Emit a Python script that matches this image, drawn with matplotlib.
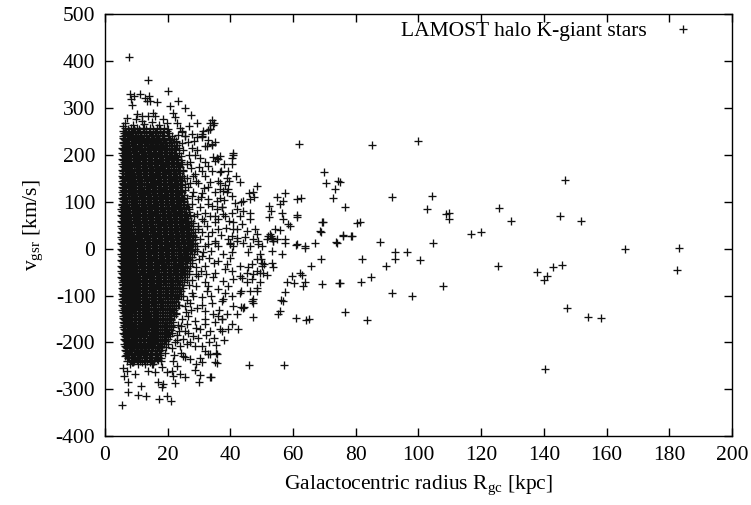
import matplotlib
matplotlib.use("Agg")
import matplotlib.pyplot as plt

plt.rcParams['font.family'] = ['Liberation Serif', 'DejaVu Serif']
plt.rcParams['mathtext.fontset'] = 'custom'
plt.rcParams['mathtext.rm'] = 'Liberation Serif'
plt.rcParams['mathtext.it'] = 'Liberation Serif:italic'
plt.rcParams['axes.unicode_minus'] = False

# ---------------- data (R_gc [kpc], v_gsr [km/s]) ----------------
far_pts = [(85.2, 221), (99.7, 230), (146.6, 147), (75.0, 143), (91.5, 110), (104.2, 113),
           (76.7, 88), (102.6, 85), (108.8, 73), (109.8, 77), (109.7, 64), (125.7, 86),
           (129.4, 59), (145.2, 69), (151.8, 60), (80.3, 55), (81.3, 57), (75.8, 29),
           (78.7, 27), (116.6, 32), (119.8, 36), (87.8, 14), (104.5, 12), (92.5, -8),
           (96.2, -8), (92.5, -21), (82.0, -22), (100.6, -24), (89.7, -37), (165.9, 0),
           (183.2, 2), (182.6, -45), (125.5, -37), (137.9, -50), (140.0, -67), (141.0, -58),
           (143.0, -40), (145.9, -35), (84.7, -61), (81.7, -72), (75.0, -74), (91.6, -94),
           (97.8, -101), (107.7, -79), (147.5, -127), (154.0, -145), (158.2, -148),
           (76.5, -136), (83.7, -153), (140.4, -257), (74.7, -74)]

mid_pts = [(61.9, 224), (70.0, 164), (70.5, 141), (73.4, 127), (74.4, 145), (72.8, 109),
           (69.4, 57), (68.8, 36), (73.7, 14), (61.1, 105), (62.5, 109), (57.4, 118),
           (56.7, 102), (55.0, 110), (55.8, 95), (52.4, 91), (52.9, 81), (52.3, 68),
           (56.4, 76), (56.9, 63), (58.5, 52), (59.0, 49), (61.1, 71), (61.4, 68),
           (54.2, 41), (55.8, 39), (52.1, 27), (53.2, 22), (48.6, 134), (47.1, 121),
           (46.0, 118), (47.6, 110), (46.2, 105), (43.9, 102), (43.3, 100), (41.8, 155),
           (43.1, 143), (40.9, 205), (40.4, 194), (38.8, 150), (39.7, 145), (36.1, 145),
           (36.7, 141), (36.9, 166), (34.6, 196), (36.1, 192), (35.1, 187), (32.4, 219),
           (34.0, 223), (33.5, 269), (34.5, 265), (33.0, 253), (30.8, 241), (41.5, 98),
           (42.0, 84), (44.1, 80), (46.2, 77), (46.2, 63), (43.1, 70), (43.6, 52),
           (40.9, 56), (42.0, 41), (45.2, 38), (47.8, 41), (48.4, 31), (52.6, 31),
           (52.9, 26), (44.7, 24), (47.3, 20), (48.9, 17), (50.0, 6), (53.7, 17),
           (54.8, 20), (57.4, 13), (61.1, 10), (63.8, 6), (67.0, 13), (40.4, 27),
           (42.0, 22), (39.9, 9), (40.9, 6), (35.6, 84), (37.2, 88), (37.7, 73),
           (35.1, 70), (36.1, 63), (37.7, 123), (38.8, 120), (40.4, 113), (36.7, 109),
           (35.6, 102), (40.4, 180), (69.3, 57), (68.6, 37), (75.8, 27), (78.4, 26),
           (60.9, 7), (63.8, 2), (73.9, 13), (68.8, -22), (65.6, -37), (69.1, -76),
           (62.2, -51), (62.7, -57), (59.5, -58), (63.8, -72), (63.3, -79), (60.4, -74),
           (58.0, -72), (57.4, -92), (56.1, -109), (56.9, -111), (55.8, -133), (55.3, -140),
           (60.8, -147), (64.1, -152), (65.2, -150), (53.7, -40), (53.2, -30), (50.0, -30),
           (50.0, -37), (50.5, -51), (51.6, -57), (48.6, -47), (45.7, -40), (45.2, -51),
           (46.8, -65), (49.4, -12), (53.2, -5), (56.4, -12), (45.7, -8), (46.8, -33),
           (47.3, -54), (43.6, -62), (48.4, -90), (43.1, -94), (46.8, -111), (47.3, -115),
           (47.3, -145), (42.2, -140), (44.1, -126), (40.9, -122), (39.3, -172), (42.5, -172),
           (37.2, -175), (37.7, -108), (37.2, -150), (36.1, -143), (35.6, -225), (35.1, -243),
           (33.5, -225), (46.0, -248), (57.2, -248), (39.9, 13), (42.0, 17), (44.1, 13),
           (46.2, 6), (48.9, 10), (51.6, 20), (40.4, -47), (38.8, -33), (39.9, -19),
           (40.9, -65), (43.1, -58), (43.1, -37), (48.4, -83), (47.3, -108), (43.3, -124),
           (44.3, -125), (46.2, -90), (45.2, -72), (43.4, -90), (49.5, -72), (49.3, -51),
           (50.6, -33), (49.9, -22), (48.4, -22), (57.4, 20), (53.7, 17)]

top_pts = [(7.7, 409), (13.6, 361), (20.2, 337), (8.0, 331), (9.4, 327), (11.2, 331),
           (12.8, 322), (14.1, 327), (13.3, 315), (14.4, 315), (8.3, 319), (8.5, 306),
           (23.4, 316), (16.5, 313), (25.5, 301), (27.4, 285), (29.2, 269), (34.0, 274),
           (34.9, 268), (33.5, 255), (21.8, 290), (22.3, 282), (20.7, 304), (18.6, 276),
           (19.7, 268), (15.4, 290), (15.9, 283), (13.8, 283), (11.7, 283), (10.1, 287),
           (9.8, 276), (11.9, 272), (6.9, 280), (6.4, 269), (5.8, 262), (30.8, 244),
           (29.2, 239), (23.9, 258), (24.5, 251), (25.5, 241), (20.2, 255), (17.2, 264),
           (12.6, 266), (8.9, 263), (15.1, 270), (22.9, 268), (26.8, 262)]

bottom_pts = [(5.3, -333), (7.4, -307), (10.6, -313), (13.0, -315), (17.3, -321),
              (19.7, -315), (20.9, -325), (18.1, -296), (7.4, -285), (11.5, -293),
              (6.2, -271), (6.9, -261), (5.8, -254), (17.0, -284), (18.6, -289),
              (22.3, -286), (25.5, -273), (28.7, -259), (30.0, -284), (33.8, -275),
              (35.6, -244), (35.4, -223), (33.0, -225), (30.8, -243), (28.9, -246),
              (30.3, -234), (27.1, -236), (25.5, -232), (31.9, -218), (28.7, -207),
              (26.0, -204), (23.9, -268), (21.8, -271), (8.5, -243), (10.1, -236),
              (12.8, -239), (14.9, -246), (9.6, -268), (13.8, -261), (15.9, -264),
              (19.7, -264), (21.3, -261), (6.4, -229), (30.3, -270), (33.5, -273),
              (24.3, -222), (21.6, -240), (18.3, -252), (16.6, -236), (23.0, -250)]

halo_pts = [(25.5, 240), (28.5, 230), (30.8, 239), (33.5, 255), (23.2, 242), (24.7, 226),
            (27.6, 216), (31.9, 219), (34.0, 221), (28.7, 201), (30.3, 194), (35.6, 194),
            (36.7, 198), (40.9, 201), (31.9, 184), (33.0, 176), (30.8, 166), (34.0, 166),
            (36.7, 164), (28.2, 155), (31.9, 155), (38.3, 137), (39.3, 127), (35.1, 120),
            (36.7, 127), (27.6, 113), (29.8, 105), (33.0, 105), (34.0, 91), (37.2, 88),
            (38.3, 70), (40.4, 77), (31.9, 77), (30.8, 63), (35.1, 56), (36.2, 41),
            (39.3, 20), (40.9, 41), (33.0, 27), (35.1, 13), (29.8, 41), (28.2, 27),
            (31.9, 6), (35.1, 17), (37.7, -12), (36.2, -26), (40.4, -8), (31.9, -37),
            (35.1, -51), (38.3, -44), (29.8, -58), (31.9, -72), (36.2, -86), (38.3, -94),
            (40.4, -101), (27.6, -94), (30.8, -104), (34.0, -115), (37.2, -111), (29.2, -126),
            (31.9, -133), (37.2, -150), (36.7, -172), (35.1, -157), (26.6, -143), (28.7, -154),
            (31.9, -161), (30.3, -172), (25.5, -175), (28.2, -186), (27.1, -200), (30.8, -207),
            (25.0, -193), (23.9, -207), (26.1, 180), (27.3, 172), (29.1, 145), (26.4, 132),
            (28.0, 122), (30.4, 88), (27.9, 96), (29.5, 74), (32.6, 48), (30.2, 20),
            (31.4, -8), (33.2, -20), (29.9, -22), (28.9, -40), (30.6, -48), (27.7, -66),
            (29.1, -80), (26.2, -110), (25.4, -122), (27.4, -130), (24.6, -150), (23.2, -162),
            (26.0, -160), (23.0, -185), (22.4, -200), (21.5, -212), (32.7, 132), (33.6, 142),
            (31.1, 118), (26.7, 200), (25.0, 210), (24.2, 190), (32.4, -90), (33.8, -100),
            (34.3, -140), (32.3, -184), (24.8, -230), (22.1, -226),
            (24.9, 165), (26.0, 150), (27.1, 140), (25.3, 100), (26.8, 85), (28.3, 70),
            (27.5, 55), (29.6, 48), (30.9, 35), (28.0, 10), (29.5, -5), (30.8, -15),
            (27.9, -25), (29.0, -55), (26.9, -78), (28.2, -100), (25.7, -135), (27.0, -115),
            (24.3, -165), (26.5, -180), (23.6, -175), (22.9, -195), (28.9, -170), (29.7, -190),
            (33.1, -200), (32.0, -150), (33.4, -175), (34.8, -190), (31.0, -120), (33.0, -80),
            (34.4, -60), (32.2, -55), (34.7, -30), (33.9, -5), (36.0, 5), (32.8, 10),
            (37.0, 30), (34.2, 35), (31.5, 60), (33.6, 70), (32.7, 95), (30.5, 110),
            (31.6, 130), (29.6, 140), (28.7, 160), (30.0, 175), (27.2, 185), (29.2, 210),
            (26.5, 228), (24.6, 250), (22.8, 229), (27.8, 245), (31.3, 252), (32.9, 232),
            (35.2, 228), (37.9, 180), (39.1, 165), (38.0, 104), (39.5, 60), (38.6, 45),
            (37.6, -70), (39.2, -80), (36.5, -130), (38.8, -140), (40.5, -160), (35.5, -205),
            (38.1, -195), (24.4, 120), (25.6, 60), (26.4, 30), (27.2, 5), (26.0, -20),
            (25.2, -45), (26.7, -55), (24.0, -90), (25.0, -100), (23.7, -120), (22.8, -140)]

# dense core (too crowded to separate single stars): rows of estimated positions
core_v = [258, 252, 246, 240, 234, 228, 222, 216, 210, 204, 198, 192, 186, 180, 174, 168,
          162, 156, 150, 144, 138, 132, 126, 120, 114, 108, 102, 96, 90, 84, 78, 72, 66,
          60, 54, 48, 42, 36, 30, 24, 18, 12, 6, 0, -6, -12, -18, -24, -30, -36, -42, -48,
          -54, -60, -66, -72, -78, -84, -90, -96, -102, -108, -114, -120, -126, -132, -138,
          -144, -150, -156, -162, -168, -174, -180, -186, -192, -198, -204, -210, -216,
          -222, -228, -234, -240, -246]
core_x = [
    [6.5, 8.4, 10.3, 12.2, 14.4, 16.6, 18.9],
    [5.9, 7.6, 9.5, 11.3, 13.2, 15.3, 17.4, 19.8],
    [6.2, 7.4, 8.9, 10.6, 12.3, 14.0, 15.8, 17.7, 20.5],
    [5.7, 6.9, 8.3, 9.8, 11.4, 13.0, 14.6, 16.3, 18.1, 20.0, 21.4],
    [6.0, 7.5, 8.9, 10.4, 12.0, 13.6, 15.2, 16.8, 18.6, 20.4, 22.1],
    [5.6, 6.8, 8.2, 9.7, 11.2, 12.7, 14.3, 15.9, 17.5, 19.1, 20.9, 22.6],
    [6.1, 7.4, 8.9, 10.4, 11.9, 13.4, 14.9, 16.6, 18.2, 19.8, 21.5, 23.0],
    [5.5, 6.7, 8.1, 9.6, 11.1, 12.6, 14.1, 15.6, 17.2, 18.8, 20.4, 22.1, 23.5],
    [6.0, 7.4, 8.8, 10.3, 11.8, 13.3, 14.8, 16.4, 17.9, 19.5, 21.2, 22.8],
    [5.5, 6.7, 8.1, 9.6, 11.0, 12.6, 14.0, 15.6, 17.1, 18.7, 20.3, 21.9, 23.7],
    [6.1, 7.4, 8.8, 10.2, 11.7, 13.2, 14.8, 16.3, 17.9, 19.4, 21.0, 22.6, 24.1],
    [5.4, 6.7, 8.1, 9.5, 11.0, 12.5, 14.0, 15.5, 17.1, 18.6, 20.2, 21.8, 23.4],
    [6.0, 7.3, 8.8, 10.3, 11.7, 13.2, 14.7, 16.3, 17.8, 19.4, 21.0, 22.6, 24.3],
    [5.4, 6.6, 8.0, 9.5, 10.9, 12.4, 14.0, 15.5, 17.0, 18.6, 20.1, 21.7, 23.3, 24.6],
    [6.0, 7.3, 8.7, 10.2, 11.7, 13.2, 14.7, 16.2, 17.8, 19.3, 20.9, 22.5, 24.0],
    [5.4, 6.6, 8.0, 9.4, 10.9, 12.4, 13.9, 15.4, 17.0, 18.5, 20.1, 21.6, 23.2, 24.8],
    [5.9, 7.3, 8.7, 10.1, 11.6, 13.1, 14.6, 16.2, 17.7, 19.3, 20.8, 22.4, 24.0],
    [5.3, 6.6, 8.0, 9.4, 10.8, 12.3, 13.9, 15.4, 16.9, 18.5, 20.0, 21.6, 23.1, 24.7],
    [5.9, 7.2, 8.6, 10.1, 11.6, 13.1, 14.6, 16.1, 17.7, 19.2, 20.8, 22.3, 23.9, 25.3],
    [5.3, 6.5, 7.9, 9.3, 10.8, 12.3, 13.8, 15.3, 16.9, 18.4, 20.0, 21.5, 23.1, 24.6],
    [5.9, 7.2, 8.6, 10.0, 11.5, 13.0, 14.6, 16.1, 17.6, 19.2, 20.7, 22.3, 23.8, 25.4],
    [5.3, 6.5, 7.9, 9.3, 10.8, 12.3, 13.8, 15.3, 16.8, 18.4, 19.9, 21.5, 23.0, 24.6],
    [5.9, 7.2, 8.6, 10.0, 11.5, 13.0, 14.5, 16.0, 17.6, 19.1, 20.7, 22.2, 23.8, 25.5],
    [5.3, 6.5, 7.9, 9.3, 10.7, 12.2, 13.7, 15.3, 16.8, 18.3, 19.9, 21.4, 23.0, 24.6],
    [5.9, 7.2, 8.5, 10.0, 11.5, 12.9, 14.5, 16.0, 17.5, 19.1, 20.6, 22.2, 23.7, 25.3],
    [5.3, 6.5, 7.8, 9.2, 10.7, 12.2, 13.7, 15.2, 16.7, 18.3, 19.8, 21.4, 22.9, 24.5, 26.0],
    [5.8, 7.1, 8.5, 9.9, 11.4, 12.9, 14.4, 15.9, 17.5, 19.0, 20.6, 22.1, 23.7, 25.2],
    [5.3, 6.5, 7.8, 9.2, 10.7, 12.2, 13.6, 15.2, 16.7, 18.2, 19.8, 21.3, 22.9, 24.4, 26.0],
    [5.8, 7.1, 8.5, 9.9, 11.4, 12.9, 14.4, 15.9, 17.4, 19.0, 20.5, 22.1, 23.6, 25.2, 26.5],
    [5.2, 6.4, 7.8, 9.2, 10.6, 12.1, 13.6, 15.1, 16.7, 18.2, 19.7, 21.3, 22.8, 24.4, 25.9],
    [5.8, 7.1, 8.5, 9.9, 11.3, 12.8, 14.3, 15.9, 17.4, 18.9, 20.5, 22.0, 23.6, 25.1, 26.7],
    [5.2, 6.4, 7.8, 9.1, 10.6, 12.1, 13.6, 15.1, 16.6, 18.1, 19.7, 21.2, 22.8, 24.3, 25.9, 27.2],
    [5.8, 7.1, 8.4, 9.9, 11.3, 12.8, 14.3, 15.8, 17.3, 18.9, 20.4, 22.0, 23.5, 25.1, 26.6],
    [5.2, 6.4, 7.7, 9.1, 10.6, 12.0, 13.5, 15.0, 16.6, 18.1, 19.6, 21.2, 22.7, 24.3, 25.8, 27.4],
    [5.8, 7.0, 8.4, 9.8, 11.3, 12.8, 14.3, 15.8, 17.3, 18.8, 20.4, 21.9, 23.5, 25.0, 26.6, 28.0],
    [5.2, 6.4, 7.7, 9.1, 10.5, 12.0, 13.5, 15.0, 16.5, 18.0, 19.6, 21.1, 22.7, 24.2, 25.8, 27.3],
    [5.8, 7.0, 8.4, 9.8, 11.2, 12.7, 14.2, 15.7, 17.3, 18.8, 20.3, 21.9, 23.4, 25.0, 26.5, 28.1],
    [5.2, 6.4, 7.7, 9.1, 10.5, 12.0, 13.5, 15.0, 16.5, 18.0, 19.5, 21.1, 22.6, 24.2, 25.7, 27.3, 28.6],
    [5.8, 7.0, 8.4, 9.8, 11.2, 12.7, 14.2, 15.7, 17.2, 18.7, 20.3, 21.8, 23.4, 24.9, 26.5, 28.0],
    [5.2, 6.4, 7.7, 9.0, 10.5, 11.9, 13.4, 14.9, 16.4, 18.0, 19.5, 21.0, 22.6, 24.1, 25.7, 27.2, 28.8],
    [5.8, 7.0, 8.3, 9.7, 11.2, 12.6, 14.1, 15.6, 17.2, 18.7, 20.2, 21.8, 23.3, 24.9, 26.4, 28.0],
    [5.2, 6.4, 7.7, 9.0, 10.4, 11.9, 13.4, 14.9, 16.4, 17.9, 19.5, 21.0, 22.5, 24.1, 25.6, 27.2, 28.7],
    [5.8, 7.0, 8.3, 9.7, 11.1, 12.6, 14.1, 15.6, 17.1, 18.7, 20.2, 21.7, 23.3, 24.8, 26.4, 27.9, 29.3],
    [5.2, 6.4, 7.6, 9.0, 10.4, 11.9, 13.4, 14.9, 16.4, 17.9, 19.4, 21.0, 22.5, 24.0, 25.6, 27.1, 28.7],
    [5.8, 7.0, 8.3, 9.7, 11.1, 12.6, 14.1, 15.6, 17.1, 18.6, 20.2, 21.7, 23.2, 24.8, 26.3, 27.9],
    [5.2, 6.4, 7.6, 9.0, 10.4, 11.9, 13.3, 14.8, 16.3, 17.9, 19.4, 20.9, 22.5, 24.0, 25.6, 27.1, 28.5],
    [5.8, 7.0, 8.3, 9.7, 11.1, 12.5, 14.0, 15.5, 17.1, 18.6, 20.1, 21.7, 23.2, 24.7, 26.3, 27.8],
    [5.2, 6.4, 7.6, 9.0, 10.4, 11.8, 13.3, 14.8, 16.3, 17.8, 19.4, 20.9, 22.4, 24.0, 25.5, 27.1],
    [5.8, 7.0, 8.3, 9.7, 11.1, 12.5, 14.0, 15.5, 17.0, 18.6, 20.1, 21.6, 23.2, 24.7, 26.3, 27.7],
    [5.2, 6.4, 7.6, 8.9, 10.3, 11.8, 13.3, 14.8, 16.3, 17.8, 19.3, 20.9, 22.4, 23.9, 25.5, 27.0],
    [5.8, 7.0, 8.3, 9.6, 11.0, 12.5, 14.0, 15.5, 17.0, 18.5, 20.1, 21.6, 23.1, 24.7, 26.2],
    [5.2, 6.4, 7.6, 8.9, 10.3, 11.8, 13.3, 14.7, 16.2, 17.8, 19.3, 20.8, 22.4, 23.9, 25.4, 26.9],
    [5.8, 7.0, 8.2, 9.6, 11.0, 12.5, 14.0, 15.4, 17.0, 18.5, 20.0, 21.6, 23.1, 24.6, 26.1],
    [5.2, 6.4, 7.6, 8.9, 10.3, 11.8, 13.2, 14.7, 16.2, 17.7, 19.3, 20.8, 22.3, 23.8, 25.4],
    [5.8, 7.0, 8.2, 9.6, 11.0, 12.5, 13.9, 15.4, 16.9, 18.5, 20.0, 21.5, 23.0, 24.6, 26.0],
    [5.3, 6.4, 7.6, 8.9, 10.3, 11.7, 13.2, 14.7, 16.2, 17.7, 19.2, 20.7, 22.3, 23.8, 25.2],
    [5.8, 7.0, 8.2, 9.6, 11.0, 12.4, 13.9, 15.4, 16.9, 18.4, 20.0, 21.5, 23.0, 24.5],
    [5.3, 6.5, 7.6, 8.9, 10.3, 11.7, 13.2, 14.7, 16.1, 17.7, 19.2, 20.7, 22.2, 23.7, 25.0],
    [5.9, 7.0, 8.3, 9.6, 11.0, 12.4, 13.9, 15.4, 16.9, 18.4, 19.9, 21.4, 23.0, 24.4],
    [5.3, 6.5, 7.7, 8.9, 10.3, 11.7, 13.2, 14.6, 16.1, 17.6, 19.1, 20.7, 22.2, 23.7],
    [5.9, 7.1, 8.3, 9.6, 11.0, 12.4, 13.9, 15.3, 16.8, 18.4, 19.9, 21.4, 22.9, 24.2],
    [5.4, 6.5, 7.7, 9.0, 10.3, 11.7, 13.1, 14.6, 16.1, 17.6, 19.1, 20.6, 22.1, 23.4],
    [5.9, 7.1, 8.3, 9.6, 11.0, 12.4, 13.8, 15.3, 16.8, 18.3, 19.8, 21.3, 22.8],
    [5.4, 6.6, 7.7, 9.0, 10.3, 11.7, 13.1, 14.6, 16.1, 17.6, 19.1, 20.6, 22.1, 23.3],
    [6.0, 7.1, 8.3, 9.6, 11.0, 12.4, 13.8, 15.3, 16.8, 18.3, 19.8, 21.3, 22.6],
    [5.5, 6.6, 7.8, 9.0, 10.4, 11.7, 13.1, 14.6, 16.0, 17.5, 19.0, 20.5, 22.0],
    [6.0, 7.2, 8.4, 9.7, 11.0, 12.4, 13.8, 15.3, 16.7, 18.2, 19.7, 21.2, 22.5],
    [5.6, 6.7, 7.8, 9.1, 10.4, 11.7, 13.1, 14.5, 16.0, 17.5, 19.0, 20.5, 21.9],
    [6.1, 7.2, 8.4, 9.7, 11.0, 12.4, 13.8, 15.2, 16.7, 18.2, 19.7, 21.2],
    [5.7, 6.8, 7.9, 9.1, 10.4, 11.8, 13.1, 14.5, 16.0, 17.5, 19.0, 20.4, 21.8],
    [6.2, 7.3, 8.5, 9.7, 11.1, 12.4, 13.8, 15.2, 16.7, 18.2, 19.6, 21.1],
    [5.8, 6.9, 8.0, 9.2, 10.5, 11.8, 13.2, 14.6, 16.0, 17.4, 18.9, 20.4, 21.6],
    [6.3, 7.4, 8.6, 9.8, 11.1, 12.5, 13.9, 15.3, 16.7, 18.1, 19.6, 21.0],
    [5.9, 7.0, 8.1, 9.3, 10.6, 11.9, 13.2, 14.6, 16.0, 17.4, 18.9, 20.3, 21.4],
    [6.4, 7.5, 8.7, 9.9, 11.2, 12.5, 13.9, 15.3, 16.7, 18.1, 19.5, 20.8],
    [6.0, 7.1, 8.2, 9.4, 10.7, 12.0, 13.3, 14.6, 16.0, 17.4, 18.8, 20.2],
    [6.6, 7.7, 8.8, 10.0, 11.3, 12.6, 13.9, 15.3, 16.7, 18.1, 19.5],
    [6.2, 7.3, 8.4, 9.6, 10.8, 12.1, 13.4, 14.7, 16.1, 17.5, 18.9, 20.1],
    [6.8, 7.9, 9.0, 10.2, 11.4, 12.7, 14.0, 15.4, 16.8, 18.2, 19.4],
    [6.4, 7.6, 8.7, 9.9, 11.1, 12.4, 13.7, 15.1, 16.5, 17.9],
    [7.0, 8.3, 9.5, 10.8, 12.1, 13.5, 14.9, 16.3, 17.7, 19.0],
    [6.8, 8.2, 9.6, 11.2, 12.7, 14.3, 15.8, 17.4],
    [7.3, 9.0, 10.6, 12.4, 14.1, 15.9, 17.8],
    [7.0, 9.2, 11.3, 13.4, 15.6, 18.0],
    [8.1, 10.5, 12.9, 15.3],
]

core2_v = [255, 249, 243, 237, 231, 225, 219, 213, 207, 201, 195, 189, 183, 177, 171, 165,
           159, 153, 147, 141, 135, 129, 123, 117, 111, 105, 99, 93, 87, 81, 75, 69, 63,
           57, 51, 45, 39, 33, 27, 21, 15, 9, 3, -3, -9, -15, -21, -27, -33, -39, -45, -51,
           -57, -63, -69, -75, -81, -87, -93, -99, -105, -111, -117, -123, -129, -135, -141,
           -147, -153, -159, -165, -171, -177, -183, -189, -195, -201, -207, -213, -219,
           -225, -231, -237, -243]
core2_x = [
    [7.2, 9.1, 11.0, 13.1, 15.3, 17.6],
    [6.7, 8.5, 10.4, 12.3, 14.3, 16.4, 18.6],
    [6.3, 7.9, 9.6, 11.3, 13.1, 14.9, 16.8, 18.9],
    [5.9, 7.2, 8.7, 10.2, 11.8, 13.4, 15.0, 16.7, 18.5, 20.3],
    [6.3, 7.7, 9.2, 10.7, 12.3, 13.9, 15.5, 17.2, 18.9, 20.8],
    [5.8, 7.1, 8.5, 10.0, 11.5, 13.0, 14.6, 16.2, 17.8, 19.5, 21.2],
    [6.4, 7.8, 9.3, 10.8, 12.3, 13.8, 15.4, 17.0, 18.6, 20.3, 21.9],
    [5.8, 7.0, 8.5, 10.0, 11.4, 12.9, 14.5, 16.0, 17.6, 19.2, 20.9, 22.4],
    [6.4, 7.8, 9.2, 10.7, 12.2, 13.7, 15.2, 16.8, 18.3, 19.9, 21.5],
    [5.8, 7.0, 8.4, 9.9, 11.4, 12.9, 14.4, 15.9, 17.5, 19.0, 20.6, 22.3],
    [6.4, 7.7, 9.2, 10.6, 12.1, 13.6, 15.1, 16.7, 18.2, 19.8, 21.4, 22.9],
    [5.7, 7.0, 8.4, 9.9, 11.3, 12.8, 14.3, 15.9, 17.4, 19.0, 20.5, 22.1],
    [6.3, 7.7, 9.1, 10.6, 12.0, 13.6, 15.1, 16.6, 18.2, 19.7, 21.3, 22.9],
    [5.7, 7.0, 8.4, 9.8, 11.3, 12.8, 14.3, 15.8, 17.4, 18.9, 20.5, 22.1, 23.5],
    [6.3, 7.6, 9.1, 10.5, 12.0, 13.5, 15.0, 16.6, 18.1, 19.7, 21.2, 22.8],
    [5.7, 6.9, 8.3, 9.8, 11.2, 12.7, 14.2, 15.8, 17.3, 18.9, 20.4, 22.0, 23.6],
    [6.3, 7.6, 9.0, 10.5, 12.0, 13.5, 15.0, 16.5, 18.1, 19.6, 21.2, 22.7],
    [5.6, 6.9, 8.3, 9.7, 11.2, 12.7, 14.2, 15.7, 17.3, 18.8, 20.4, 21.9, 23.5],
    [6.2, 7.6, 9.0, 10.5, 11.9, 13.4, 15.0, 16.5, 18.0, 19.6, 21.1, 22.7, 24.1],
    [5.6, 6.9, 8.3, 9.7, 11.1, 12.6, 14.2, 15.7, 17.2, 18.8, 20.3, 21.9, 23.4],
    [6.2, 7.5, 8.9, 10.4, 11.9, 13.4, 14.9, 16.4, 18.0, 19.5, 21.1, 22.6, 24.2],
    [5.6, 6.8, 8.2, 9.6, 11.1, 12.6, 14.1, 15.6, 17.2, 18.7, 20.3, 21.8, 23.4],
    [6.2, 7.5, 8.9, 10.4, 11.8, 13.3, 14.9, 16.4, 17.9, 19.5, 21.0, 22.6, 24.2],
    [5.6, 6.8, 8.2, 9.6, 11.1, 12.6, 14.1, 15.6, 17.1, 18.7, 20.2, 21.8, 23.3],
    [6.2, 7.5, 8.9, 10.3, 11.8, 13.3, 14.8, 16.4, 17.9, 19.4, 21.0, 22.5, 24.1],
    [5.6, 6.8, 8.2, 9.6, 11.0, 12.5, 14.0, 15.6, 17.1, 18.6, 20.2, 21.7, 23.3, 24.8],
    [6.1, 7.5, 8.9, 10.3, 11.8, 13.3, 14.8, 16.3, 17.8, 19.4, 20.9, 22.5, 24.0],
    [5.5, 6.8, 8.2, 9.6, 11.0, 12.5, 14.0, 15.5, 17.0, 18.6, 20.1, 21.7, 23.2, 24.8],
    [6.1, 7.4, 8.8, 10.3, 11.7, 13.2, 14.7, 16.3, 17.8, 19.3, 20.9, 22.4, 24.0, 25.3],
    [5.5, 6.8, 8.1, 9.5, 11.0, 12.5, 14.0, 15.5, 17.0, 18.5, 20.1, 21.6, 23.2, 24.7],
    [6.1, 7.4, 8.8, 10.2, 11.7, 13.2, 14.7, 16.2, 17.7, 19.3, 20.8, 22.4, 23.9, 25.5],
    [5.5, 6.7, 8.1, 9.5, 10.9, 12.4, 13.9, 15.4, 17.0, 18.5, 20.0, 21.6, 23.1, 24.7, 26.0],
    [6.1, 7.4, 8.8, 10.2, 11.7, 13.1, 14.6, 16.2, 17.7, 19.2, 20.8, 22.3, 23.9, 25.4],
    [5.5, 6.7, 8.1, 9.5, 10.9, 12.4, 13.9, 15.4, 16.9, 18.4, 20.0, 21.5, 23.1, 24.6, 26.2],
    [6.1, 7.4, 8.7, 10.2, 11.6, 13.1, 14.6, 16.1, 17.6, 19.2, 20.7, 22.3, 23.8, 25.4, 26.7],
    [5.5, 6.7, 8.1, 9.4, 10.9, 12.4, 13.8, 15.3, 16.9, 18.4, 19.9, 21.5, 23.0, 24.6, 26.1],
    [6.1, 7.3, 8.7, 10.1, 11.6, 13.1, 14.6, 16.1, 17.6, 19.1, 20.7, 22.2, 23.8, 25.3, 26.9],
    [5.5, 6.7, 8.0, 9.4, 10.8, 12.3, 13.8, 15.3, 16.8, 18.4, 19.9, 21.4, 23.0, 24.5, 26.1, 27.4],
    [6.1, 7.3, 8.7, 10.1, 11.6, 13.0, 14.5, 16.0, 17.6, 19.1, 20.6, 22.2, 23.7, 25.3, 26.8],
    [5.5, 6.7, 8.0, 9.4, 10.8, 12.3, 13.8, 15.3, 16.8, 18.3, 19.8, 21.4, 22.9, 24.5, 26.0, 27.6],
    [6.1, 7.3, 8.7, 10.1, 11.5, 13.0, 14.5, 16.0, 17.5, 19.0, 20.6, 22.1, 23.7, 25.2, 26.8],
    [5.5, 6.7, 8.0, 9.4, 10.8, 12.2, 13.7, 15.2, 16.7, 18.3, 19.8, 21.3, 22.9, 24.4, 26.0, 27.5],
    [6.1, 7.3, 8.6, 10.0, 11.5, 13.0, 14.5, 16.0, 17.5, 19.0, 20.5, 22.1, 23.6, 25.2, 26.7],
    [5.5, 6.7, 8.0, 9.4, 10.8, 12.2, 13.7, 15.2, 16.7, 18.2, 19.8, 21.3, 22.8, 24.4, 25.9, 27.4],
    [6.1, 7.3, 8.6, 10.0, 11.5, 12.9, 14.4, 15.9, 17.4, 19.0, 20.5, 22.0, 23.6, 25.1, 26.6],
    [5.5, 6.7, 8.0, 9.3, 10.7, 12.2, 13.7, 15.2, 16.7, 18.2, 19.7, 21.3, 22.8, 24.3, 25.9],
    [6.1, 7.3, 8.6, 10.0, 11.4, 12.9, 14.4, 15.9, 17.4, 18.9, 20.4, 22.0, 23.5, 25.0, 26.5],
    [5.5, 6.7, 8.0, 9.3, 10.7, 12.2, 13.6, 15.1, 16.6, 18.1, 19.7, 21.2, 22.7, 24.3, 25.8],
    [6.1, 7.3, 8.6, 10.0, 11.4, 12.9, 14.3, 15.8, 17.3, 18.9, 20.4, 21.9, 23.5, 25.0],
    [5.5, 6.7, 8.0, 9.3, 10.7, 12.1, 13.6, 15.1, 16.6, 18.1, 19.6, 21.2, 22.7, 24.2, 25.6],
    [6.1, 7.3, 8.6, 9.9, 11.4, 12.8, 14.3, 15.8, 17.3, 18.8, 20.3, 21.9, 23.4, 24.8],
    [5.5, 6.7, 8.0, 9.3, 10.7, 12.1, 13.6, 15.0, 16.5, 18.0, 19.6, 21.1, 22.6, 24.1, 25.3],
    [6.1, 7.3, 8.5, 9.9, 11.3, 12.8, 14.2, 15.7, 17.2, 18.7, 20.3, 21.8, 23.3, 24.6],
    [5.5, 6.7, 7.9, 9.3, 10.6, 12.1, 13.5, 15.0, 16.5, 18.0, 19.5, 21.0, 22.5, 23.9],
    [6.1, 7.3, 8.5, 9.9, 11.3, 12.7, 14.2, 15.7, 17.2, 18.7, 20.2, 21.7, 23.2],
    [5.6, 6.7, 7.9, 9.2, 10.6, 12.0, 13.5, 15.0, 16.5, 18.0, 19.5, 21.0, 22.4, 23.7],
    [6.1, 7.3, 8.5, 9.9, 11.3, 12.7, 14.2, 15.6, 17.1, 18.6, 20.1, 21.6, 23.0],
    [5.6, 6.8, 8.0, 9.2, 10.6, 12.0, 13.5, 14.9, 16.4, 17.9, 19.4, 20.9, 22.3, 23.5],
    [6.2, 7.3, 8.6, 9.9, 11.3, 12.7, 14.1, 15.6, 17.1, 18.6, 20.1, 21.6, 22.9],
    [5.6, 6.8, 8.0, 9.3, 10.6, 12.0, 13.4, 14.9, 16.4, 17.9, 19.4, 20.9, 22.2],
    [6.2, 7.4, 8.6, 9.9, 11.3, 12.7, 14.1, 15.6, 17.1, 18.5, 20.0, 21.5, 22.7],
    [5.7, 6.8, 8.0, 9.3, 10.6, 12.0, 13.4, 14.9, 16.3, 17.8, 19.3, 20.8, 22.1],
    [6.2, 7.4, 8.6, 9.9, 11.3, 12.7, 14.1, 15.5, 17.0, 18.5, 20.0, 21.4],
    [5.7, 6.9, 8.0, 9.3, 10.7, 12.0, 13.4, 14.8, 16.3, 17.8, 19.3, 20.7, 21.9],
    [6.3, 7.4, 8.6, 9.9, 11.3, 12.7, 14.1, 15.5, 17.0, 18.5, 19.9, 21.3],
    [5.8, 6.9, 8.1, 9.4, 10.7, 12.0, 13.4, 14.8, 16.3, 17.7, 19.2, 20.6, 21.8],
    [6.3, 7.5, 8.7, 10.0, 11.3, 12.7, 14.0, 15.5, 16.9, 18.4, 19.9, 21.2],
    [5.9, 7.0, 8.1, 9.4, 10.7, 12.1, 13.4, 14.8, 16.3, 17.7, 19.2, 20.6],
    [6.4, 7.5, 8.7, 10.0, 11.3, 12.7, 14.1, 15.5, 16.9, 18.4, 19.8, 21.1],
    [6.0, 7.1, 8.2, 9.5, 10.8, 12.1, 13.5, 14.9, 16.3, 17.7, 19.2, 20.5],
    [6.5, 7.6, 8.8, 10.0, 11.4, 12.7, 14.1, 15.5, 16.9, 18.3, 19.8, 21.0],
    [6.1, 7.2, 8.3, 9.5, 10.8, 12.1, 13.5, 14.9, 16.3, 17.7, 19.1, 20.4],
    [6.6, 7.7, 8.9, 10.1, 11.4, 12.7, 14.1, 15.5, 16.9, 18.3, 19.7],
    [6.2, 7.3, 8.4, 9.6, 10.9, 12.2, 13.5, 14.9, 16.3, 17.7, 19.1, 20.2],
    [6.7, 7.8, 9.0, 10.2, 11.5, 12.8, 14.2, 15.5, 16.9, 18.3, 19.5],
    [6.3, 7.4, 8.5, 9.7, 11.0, 12.3, 13.6, 14.9, 16.3, 17.7, 19.0],
    [6.9, 8.0, 9.1, 10.3, 11.6, 12.9, 14.2, 15.6, 17.0, 18.3],
    [6.5, 7.6, 8.7, 9.9, 11.2, 12.5, 13.8, 15.1, 16.5, 17.8],
    [7.1, 8.3, 9.4, 10.6, 11.9, 13.2, 14.6, 16.0, 17.3],
    [6.8, 8.0, 9.2, 10.5, 11.8, 13.2, 14.6, 16.0, 17.2],
    [7.3, 8.7, 10.1, 11.6, 13.1, 14.7, 16.2],
    [7.6, 9.4, 11.2, 13.0, 14.9, 16.8],
    [8.2, 10.3, 12.4, 14.6, 16.9],
    [9.0, 11.7, 14.2],
]

legend_label = "LAMOST halo K-giant stars"
x_ticks = [0, 20, 40, 60, 80, 100, 120, 140, 160, 180, 200]
y_ticks = [-400, -300, -200, -100, 0, 100, 200, 300, 400, 500]

# ---------------- assemble ----------------
xs, vs = [], []
for group in (far_pts, mid_pts, top_pts, bottom_pts, halo_pts):
    for x, v in group:
        xs.append(x)
        vs.append(v)
for rows_v, rows_x in ((core_v, core_x), (core2_v, core2_x)):
    for v, row in zip(rows_v, rows_x):
        for x in row:
            xs.append(x)
            vs.append(v)

FS = 15.5
fig = plt.figure(figsize=(7.51, 5.05), dpi=100)
ax = fig.add_axes([0.1398, 0.1366, 0.8349, 0.8347])

ax.plot(xs, vs, linestyle='none', marker='+', markersize=5.2, markeredgewidth=0.95,
        color='#111111', label=legend_label)

ax.set_xlim(0, 200)
ax.set_ylim(-400, 500)
ax.set_xticks(x_ticks)
ax.set_yticks(y_ticks)
ax.tick_params(direction='in', length=6, width=1, top=True, right=True, labelsize=FS, pad=7)
for s in ax.spines.values():
    s.set_linewidth(1.0)

ax.set_xlabel(r'Galactocentric radius R$_{\rm gc}$ [kpc]', fontsize=FS, labelpad=6)
ax.set_ylabel(r'v$_{\rm gsr}$ [km/s]', fontsize=FS, labelpad=8)

leg = ax.legend(loc='upper right', frameon=False, markerfirst=False, fontsize=FS,
                handlelength=1.4, handletextpad=1.0, borderaxespad=0.0,
                bbox_to_anchor=(0.96, 1.005))

fig.savefig('out.png', dpi=100)
